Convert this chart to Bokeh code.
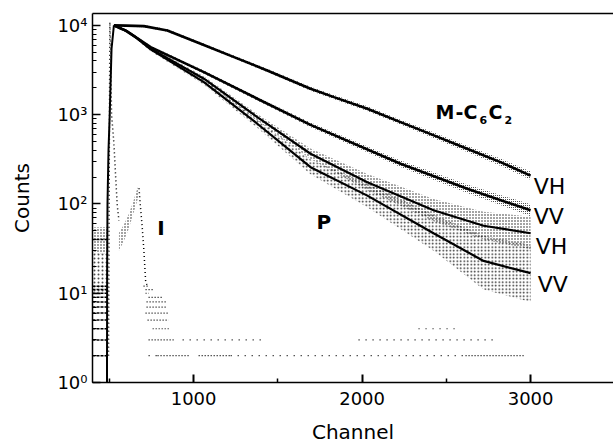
from bokeh.plotting import figure
from bokeh.models import Range1d, LinearAxis, FixedTicker, Label
from bokeh.embed import file_html
from bokeh.resources import INLINE

FONT = "DejaVu Sans"

# ---------------- data ----------------
x_ticks = [1000, 2000, 3000]
x_minor = [500, 1500, 2500]
y_ticks = [1, 10, 100, 1000, 10000]
y_tick_labels = ["10\u2070", "10\u00b9", "10\u00b2", "10\u00b3", "10\u2074"]

# common rising edge of the decays
rise_ch = [486, 487, 489, 495, 502, 513, 527]
rise_counts = [1, 20, 100, 400, 980, 5480, 10000]

# M-C6C2, VH
c1_ch = [527, 600, 705, 844, 1042, 1240, 1437, 1694, 1833, 2031, 2228, 2426, 2623, 2821, 3000]
c1 = [10000, 9950, 9820, 8790, 6240, 4415, 3130, 1954, 1573, 1167, 826, 586, 415, 294, 208]
c1_lo = [9700, 9650, 9520, 8500, 6020, 4250, 3000, 1860, 1490, 1100, 775, 545, 383, 268, 187]
c1_hi = [10300, 10250, 10120, 9090, 6470, 4590, 3270, 2050, 1660, 1240, 880, 630, 450, 322, 231]

# M-C6C2, VV
c2_ch = [527, 600, 656, 745, 1061, 1378, 1694, 2228, 2624, 3000]
c2 = [10000, 8700, 7400, 5710, 3000, 1510, 770, 282, 148, 85]
c2_lo = [9700, 8430, 7160, 5510, 2880, 1440, 725, 260, 133, 73]
c2_hi = [10300, 8970, 7640, 5910, 3120, 1580, 815, 306, 165, 99]

# P, VH
c3_ch = [527, 600, 656, 745, 1061, 1378, 1694, 2031, 2424, 2721, 3000]
c3 = [10000, 8700, 7400, 5500, 2530, 939, 365, 175, 85, 57, 47]
c3_lo = [9600, 8350, 7100, 5250, 2380, 860, 318, 142, 64, 40, 31]
c3_hi = [10400, 9050, 7700, 5750, 2690, 1020, 418, 216, 114, 82, 72]

# P, VV
c4_ch = [527, 600, 656, 745, 1061, 1378, 1694, 2031, 2424, 2721, 3000]
c4 = [10000, 8700, 7400, 5400, 2317, 792, 258, 124, 47, 23, 16.8]
c4_lo = [9600, 8350, 7100, 5150, 2170, 715, 215, 92, 30, 11, 8.0]
c4_hi = [10400, 9050, 7700, 5650, 2470, 880, 315, 170, 76, 44, 35]

# instrument response I
irf_ch = [495, 500, 503, 508, 513, 520, 527, 537, 547, 557]
irf_counts = [2, 400, 10900, 5000, 1000, 700, 475, 208, 96, 65]
bump_ch = [557, 585, 614, 640, 660, 676]
bump_lo = [30, 38, 52, 75, 100, 128]
bump_hi = [48, 58, 76, 104, 138, 165]
irf2_ch = [676, 685, 695, 705, 715, 725]
irf2_counts = [150, 91, 55, 30, 14, 12]

# single-count rows of the tail
dense_count = [12, 11, 10, 9, 8, 7, 6, 5, 4, 3, 2, 2, 2]
dense_start = [703, 715, 715, 733, 721, 721, 715, 727, 757, 733, 786, 1030, 2614]
dense_end = [733, 757, 735, 816, 834, 834, 846, 852, 864, 881, 982, 1220, 2958]
sparse_count = [2, 2, 3, 3, 4]
sparse_start = [733, 1220, 935, 1979, 2335]
sparse_end = [786, 2614, 1415, 2804, 2555]

# background before the rise
pre_count = [2, 3, 4, 5, 6, 7, 8, 9, 10, 11, 12, 40]
pre_start = [400] * 12
pre_end = [486] * 12
pre_ch = [400, 486]
pre_dense_lo = [28, 28]
pre_dense_hi = [55, 55]
pre_sparse_lo = [10, 10]
pre_sparse_hi = [28, 28]

# ---------------- figure ----------------
X0 = 400
p = figure(frame_width=521, frame_height=369,
           x_range=Range1d(X0, 3492), y_range=Range1d(1, 13600),
           y_axis_type="log", output_backend="svg", toolbar_location=None,
           min_border_left=92, min_border_right=0, min_border_top=13,
           min_border_bottom=61)
p.outline_line_color = None
p.grid.visible = False
p.background_fill_color = "white"
p.border_fill_color = "white"

ya = p.yaxis[0]
ya.major_tick_in = 8
ya.major_tick_out = 0
ya.minor_tick_in = 4
ya.minor_tick_out = 0
ya.axis_line_width = 1.5
ya.major_tick_line_width = 1.5
ya.minor_tick_line_width = 1
ya.major_label_overrides = dict(zip(y_ticks, y_tick_labels))
ya.major_label_text_font = FONT
ya.major_label_text_font_size = "18px"
ya.major_label_text_color = "black"
ya.major_label_standoff = 5
ya.axis_label = "Counts"
ya.axis_label_text_font = FONT
ya.axis_label_text_font_size = "20px"
ya.axis_label_text_font_style = "normal"
ya.axis_label_text_color = "black"
ya.axis_label_standoff = 20

xa = p.xaxis[0]
xa.ticker = FixedTicker(ticks=x_ticks, minor_ticks=x_minor)
xa.major_tick_in = 8
xa.major_tick_out = 0
xa.minor_tick_in = 4
xa.minor_tick_out = 0
xa.axis_line_width = 1.5
xa.major_tick_line_width = 2
xa.minor_tick_line_width = 1.5
xa.major_label_text_font = FONT
xa.major_label_text_font_size = "18px"
xa.major_label_text_color = "black"
xa.major_label_standoff = 9
xa.axis_label = "Channel"
xa.axis_label_text_font = FONT
xa.axis_label_text_font_size = "20px"
xa.axis_label_text_font_style = "normal"
xa.axis_label_text_color = "black"
xa.axis_label_standoff = 12

top = LinearAxis(ticker=FixedTicker(ticks=x_ticks), major_label_text_font_size="1px",
                 major_label_text_color=None,
                 major_tick_line_color=None, minor_tick_line_color=None,
                 major_tick_in=0, major_tick_out=0,
                 axis_line_width=1.5, major_label_standoff=0)
p.add_layout(top, "above")

# ---------------- noise bands ----------------
def band(ch, lo, hi, scale=3, weight=1.0, alpha=0.9):
    p.varea(x=ch, y1=lo, y2=hi, fill_color=None, hatch_pattern="dot",
            hatch_color="black", hatch_scale=scale, hatch_weight=weight,
            hatch_alpha=alpha)

band(pre_ch, pre_sparse_lo, pre_sparse_hi, scale=4, weight=1.0, alpha=0.7)
band(pre_ch, pre_dense_lo, pre_dense_hi, scale=3, weight=1.2)
band(c4_ch, c4_lo, c4_hi, scale=3.5, weight=1.0, alpha=0.85)
band(c3_ch, c3_lo, c3_hi, scale=3, weight=1.0, alpha=0.9)
band(c2_ch, c2_lo, c2_hi, scale=2, weight=1.0)
band(c1_ch, c1_lo, c1_hi, scale=2, weight=1.0)
band(bump_ch, bump_lo, bump_hi, scale=3, weight=1.2)

# count rows
p.segment(x0=dense_start, y0=dense_count, x1=dense_end, y1=dense_count,
          line_color="black", line_width=1.2, line_dash="1 2")
p.segment(x0=sparse_start, y0=sparse_count, x1=sparse_end, y1=sparse_count,
          line_color="black", line_width=1.2, line_dash="1 6")
p.segment(x0=pre_start, y0=pre_count, x1=pre_end, y1=pre_count,
          line_color="black", line_width=1.5, line_dash="3 1")

# instrument response
p.line(irf_ch, irf_counts, line_color="black", line_width=1.5, line_dash="1 3")
p.line(irf2_ch, irf2_counts, line_color="black", line_width=1.5, line_dash="1 3")

# fitted decays
p.line(rise_ch, rise_counts, line_color="black", line_width=2)
p.line(c1_ch, c1, line_color="black", line_width=2.6)
p.line(c2_ch, c2, line_color="black", line_width=2.6)
p.line(c3_ch, c3, line_color="black", line_width=2.2)
p.line(c4_ch, c4, line_color="black", line_width=2.2)

# ---------------- texts inside the plot ----------------
def lab(x, y, text, size, bold=False, align="left"):
    p.add_layout(Label(x=x, y=y, text=text, text_font=FONT,
                       text_font_size=f"{size}px",
                       text_font_style="bold" if bold else "normal",
                       text_align=align, text_baseline="alphabetic",
                       text_color="black"))

lab(2436, 1068, "M", 19, bold=True)
lab(2555, 1068, "-C", 19, bold=True)
lab(2697, 862, "6", 11, bold=True)
lab(2750, 1068, "C", 19, bold=True)
lab(2845, 862, "2", 11, bold=True)

lab(3018, 157, "VH", 22)
lab(3018, 72.4, "VV", 22)
lab(3030, 33.8, "VH", 22)
lab(3042, 12.4, "VV", 22)

lab(807, 53.2, "I", 20, bold=True, align="center")
lab(1730, 62, "P", 20, bold=True)

open("out.html", "w").write(file_html(p, INLINE))
